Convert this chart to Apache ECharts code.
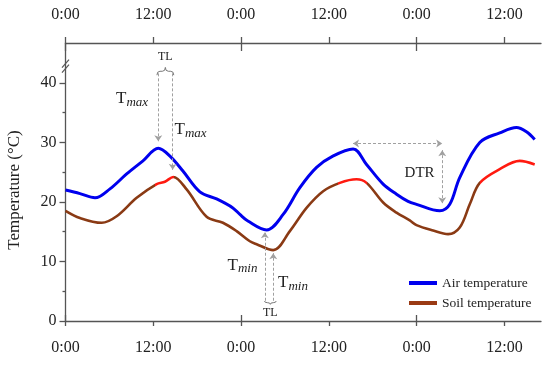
<!DOCTYPE html>
<html>
<head>
<meta charset="utf-8">
<script src="https://cdn.jsdelivr.net/npm/echarts@6/dist/echarts.min.js"></script>
<style>html,body{margin:0;padding:0;background:#fff}#c{width:550px;height:365px}</style>
</head>
<body>
<div id="c"></div>
<script>
// ---- data (hours since first midnight, °C) ----
const airHours = [0, 1.98, 4.03, 6.08, 8.36, 10.59, 12.68, 14.28, 16.05, 18.37, 20.66, 22.88, 23.84, 24.93, 27.49, 29.75, 32.04, 34.32, 36.54, 39.32, 41.15, 43.42, 45.25, 46.83, 47.98, 51.16, 52.53, 53.89, 56.63, 59.36, 61.64, 63.01, 64.14];
const airTemp  = [22.0, 21.4, 20.7, 22.2, 24.7, 26.9, 29.0, 27.7, 25.2, 21.7, 20.5, 19.0, 17.9, 16.8, 15.3, 17.9, 22.4, 25.8, 27.7, 28.9, 26.3, 23.0, 21.3, 20.1, 19.6, 18.5, 19.6, 24.1, 30.0, 31.6, 32.5, 31.8, 30.5];
const soilHours = [0, 1.98, 4.95, 6.99, 9.73, 12.46, 13.59, 14.73, 16.56, 19.29, 21.52, 23.39, 25.2, 26.12, 28.39, 30.67, 32.95, 35.22, 37.5, 39.78, 41.15, 43.42, 45.25, 47.06, 47.98, 50.25, 52.3, 53.89, 55.26, 56.63, 59.36, 62.09, 64.14];
const soilTemp  = [18.5, 17.3, 16.5, 17.6, 20.7, 23.0, 23.4, 24.2, 22.1, 17.5, 16.5, 15.1, 13.4, 12.9, 11.9, 15.1, 19.0, 21.8, 23.2, 23.8, 23.2, 19.9, 18.2, 16.9, 16.1, 15.2, 14.6, 15.7, 19.6, 23.2, 25.5, 26.9, 26.3];
const seriesNames = ['Air temperature', 'Soil temperature'];
const timeTicks = [0, 12, 24, 36, 48, 60];
const dayTicks = [0, 24, 48];
const yTicks = [0, 10, 20, 30, 40];
const yMinorTicks = [5, 15, 25, 35];

const FONT = 'Liberation Serif';
const AX = '#555';
const zip = (a, b) => a.map((v, i) => [v, b[i]]);
const timeFmt = v => (v % 24 === 0 ? '0:00' : '12:00');

function xAx(pos, showLabel, ticks, len, inside) {
  return {
    type: 'value', position: pos, min: 0, max: 65,
    axisLine: { show: showLabel, lineStyle: { color: AX, width: 1.3 } },
    axisTick: { show: true, inside: inside, length: len, customValues: ticks, lineStyle: { color: AX, width: 1.3 } },
    axisLabel: { show: showLabel, customValues: ticks, formatter: timeFmt, margin: pos === 'top' ? 20 : 19,
      fontFamily: FONT, fontSize: 16, color: '#222' },
    splitLine: { show: false }
  };
}

const textLabels = [
  { coord: [9.1, 37.3], kind: 'max' },
  { coord: [17.1, 32.1], kind: 'max' },
  { coord: [24.2, 9.4], kind: 'min' },
  { coord: [31.1, 6.4], kind: 'min' }
];

const option = {
  animation: false,
  backgroundColor: '#fff',
  grid: { left: 65.5, right: 9, top: 43, bottom: 44, containLabel: false },
  xAxis: [
    xAx('bottom', true, timeTicks, 5, false),
    xAx('bottom', false, dayTicks, 6, true),
    xAx('top', true, timeTicks, 6, false),
    xAx('top', false, dayTicks, 8, true)
  ],
  yAxis: [
    { type: 'value', min: 0, max: 46.7, position: 'left',
      axisLine: { show: true, lineStyle: { color: AX, width: 1.3 } },
      axisTick: { show: true, length: 6, customValues: yTicks, lineStyle: { color: AX, width: 1.3 } },
      axisLabel: { customValues: yTicks, margin: 9, fontFamily: FONT, fontSize: 16, color: '#222' },
      splitLine: { show: false } },
    { type: 'value', min: 0, max: 46.7, position: 'left',
      axisLine: { show: false },
      axisTick: { show: true, length: 3, customValues: yMinorTicks, lineStyle: { color: AX, width: 1.3 } },
      axisLabel: { show: false }, splitLine: { show: false } }
  ],
  legend: {
    orient: 'vertical', left: 404, top: 271, itemGap: 6,
    itemWidth: 28, itemHeight: 4, icon: 'rect',
    textStyle: { fontFamily: FONT, fontSize: 13.5, color: '#222' },
    data: [
      { name: seriesNames[0], itemStyle: { color: '#0000ee' } },
      { name: seriesNames[1], itemStyle: { color: '#9a3a14' } }
    ]
  },
  visualMap: {
    show: false, type: 'piecewise', seriesIndex: 1, dimension: 0,
    pieces: [
      { gte: 12.2, lt: 14.9, color: '#ff1a10' },
      { gte: 37.2, lt: 41.2, color: '#ff1a10' },
      { gte: 56.6, color: '#ff1a10' }
    ],
    outOfRange: { color: '#8a3a14' }
  },
  graphic: [
    { type: 'text', x: 15, y: 190, rotation: Math.PI / 2,
      style: { text: 'Temperature (°C)', font: '17px "Liberation Serif"', fill: '#222', align: 'center', verticalAlign: 'middle' } }
  ],
  series: [
    {
      name: seriesNames[0], type: 'line', smooth: 0.35, showSymbol: false,
      data: zip(airHours, airTemp),
      itemStyle: { color: '#0000ee' },
      lineStyle: { color: '#0000ee', width: 3 },
      z: 3,
      markLine: {
        silent: true, animation: false, symbolSize: 6,
        label: { show: false },
        lineStyle: { color: '#a0a0a0', type: [3, 2], width: 1 },
        data: [
          [{ coord: [12.68, 41.6], symbol: 'none' }, { coord: [12.68, 30.2], symbol: 'arrow' }],
          [{ coord: [14.65, 41.6], symbol: 'none' }, { coord: [14.65, 25.4], symbol: 'arrow' }],
          [{ coord: [27.25, 3.4], symbol: 'none' }, { coord: [27.25, 14.9], symbol: 'arrow' }],
          [{ coord: [28.4, 3.4], symbol: 'none' }, { coord: [28.4, 11.4], symbol: 'arrow' }],
          [{ coord: [39.3, 29.8], symbol: 'arrow' }, { coord: [51.5, 29.8], symbol: 'arrow' }],
          [{ coord: [51.5, 28.7], symbol: 'arrow' }, { coord: [51.5, 19.8], symbol: 'arrow' }]
        ]
      },
      markPoint: {
        silent: true, animation: false, symbol: 'circle', symbolSize: 1,
        itemStyle: { color: 'rgba(0,0,0,0)' },
        label: {
          show: true, position: 'inside', color: '#222',
          rich: {
            t: { fontFamily: FONT, fontSize: 17, color: '#222' },
            s: { fontFamily: FONT, fontSize: 13, fontStyle: 'italic', color: '#222', padding: [8, 0, 0, 0] },
            p: { fontFamily: FONT, fontSize: 15, color: '#222' },
            q: { fontFamily: FONT, fontSize: 12, color: '#222' }
          }
        },
        data: textLabels.map(d => ({ coord: d.coord, label: { formatter: '{t|T}{s|' + d.kind + '}' } }))
          .concat([
            { coord: [48.4, 24.8], label: { formatter: '{p|DTR}' } },
            { coord: [13.65, 44.3], label: { formatter: '{q|TL}' } },
            { coord: [28.0, 1.4], label: { formatter: '{q|TL}' } }
          ])
      }
    },
    {
      name: seriesNames[1], type: 'line', smooth: 0.35, showSymbol: false,
      data: zip(soilHours, soilTemp),
      itemStyle: { color: '#9a3a14' },
      lineStyle: { width: 2.6 },
      z: 2
    },
    {
      name: 'braces', type: 'custom', silent: true, z: 4,
      data: [[12.5, 14.8, 41.3, 42.6], [27.2, 28.8, 3.36, 2.8]],
      renderItem: function (params, api) {
        const x1 = api.value(0), x2 = api.value(1);
        const pl1 = api.coord([x1, api.value(2)]);
        const pl2 = api.coord([x2, api.value(2)]);
        const pt = api.coord([(x1 + x2) / 2, api.value(3)]);
        const yl = pl1[1], yt = pt[1], yb = (yl + yt) / 2, xm = pt[0];
        const a = pl1[0], b = pl2[0];
        const r = Math.min(3, (b - a) / 4);
        const d = 'M' + a + ' ' + yl + ' Q' + a + ' ' + yb + ' ' + (a + r) + ' ' + yb +
          ' L' + (xm - r) + ' ' + yb + ' Q' + xm + ' ' + yb + ' ' + xm + ' ' + yt +
          ' Q' + xm + ' ' + yb + ' ' + (xm + r) + ' ' + yb +
          ' L' + (b - r) + ' ' + yb + ' Q' + b + ' ' + yb + ' ' + b + ' ' + yl;
        return { type: 'path', shape: { pathData: d }, style: { stroke: '#777', fill: null, lineWidth: 1 } };
      }
    },
    {
      name: 'axisBreak', type: 'custom', silent: true, z: 5,
      data: [[0, 42.8]],
      renderItem: function (params, api) {
        const p = api.coord([api.value(0), api.value(1)]);
        return { type: 'group', children: [-2.5, 2.5].map(dy => ({
          type: 'line',
          shape: { x1: p[0] - 3.5, y1: p[1] + 4 + dy, x2: p[0] + 3.5, y2: p[1] - 4 + dy },
          style: { stroke: '#555', lineWidth: 1.2 }
        })) };
      }
    }
  ]
};
const chart = echarts.init(document.getElementById('c'), null, { renderer: 'canvas' });
chart.setOption(option);
</script>
</body>
</html>
